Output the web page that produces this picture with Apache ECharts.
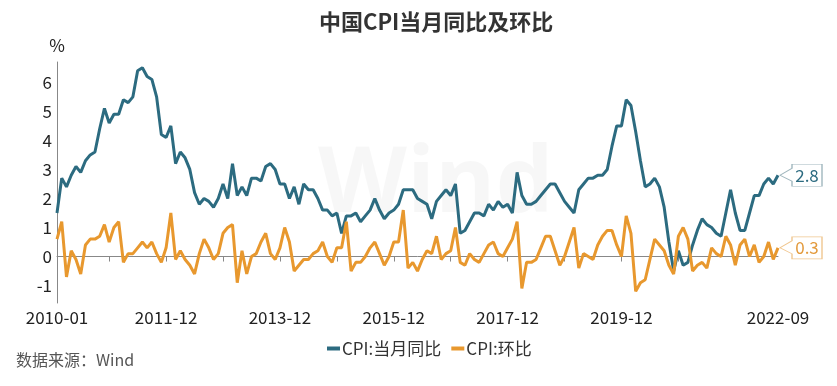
<!DOCTYPE html>
<html>
<head>
<meta charset="utf-8">
<script src="https://cdn.jsdelivr.net/npm/echarts@6/dist/echarts.min.js"></script>
<style>html,body{margin:0;padding:0;background:#fff}#c{width:837px;height:386px}</style>
</head>
<body>
<div id="c"></div>
<script>
// Months 2010-01 .. 2022-09
const startYear = 2010, endYear = 2022, endMonth = 9;
const categories = [];
for (let y = startYear; y <= endYear; y++) {
  for (let m = 1; m <= 12; m++) {
    if (y === endYear && m > endMonth) break;
    categories.push(y + '-' + (m < 10 ? '0' + m : m));
  }
}
// CPI YoY (%)
const yoy = [
  1.5, 2.7, 2.4, 2.8, 3.1, 2.9, 3.3, 3.5, 3.6, 4.4, 5.1, 4.6,
  4.9, 4.9, 5.4, 5.3, 5.5, 6.4, 6.5, 6.2, 6.1, 5.5, 4.2, 4.1,
  4.5, 3.2, 3.6, 3.4, 3.0, 2.2, 1.8, 2.0, 1.9, 1.7, 2.0, 2.5,
  2.0, 3.2, 2.1, 2.4, 2.1, 2.7, 2.7, 2.6, 3.1, 3.2, 3.0, 2.5,
  2.5, 2.0, 2.4, 1.8, 2.5, 2.3, 2.3, 2.0, 1.6, 1.6, 1.4, 1.5,
  0.8, 1.4, 1.4, 1.5, 1.2, 1.4, 1.6, 2.0, 1.6, 1.3, 1.5, 1.6,
  1.8, 2.3, 2.3, 2.3, 2.0, 1.9, 1.8, 1.3, 1.9, 2.1, 2.3, 2.1,
  2.5, 0.8, 0.9, 1.2, 1.5, 1.5, 1.4, 1.8, 1.6, 1.9, 1.7, 1.8,
  1.5, 2.9, 2.1, 1.8, 1.8, 1.9, 2.1, 2.3, 2.5, 2.5, 2.2, 1.9,
  1.7, 1.5, 2.3, 2.5, 2.7, 2.7, 2.8, 2.8, 3.0, 3.8, 4.5, 4.5,
  5.4, 5.2, 4.3, 3.3, 2.4, 2.5, 2.7, 2.4, 1.7, 0.5, -0.5, 0.2,
  -0.3, -0.2, 0.4, 0.9, 1.3, 1.1, 1.0, 0.8, 0.7, 1.5, 2.3, 1.5,
  0.9, 0.9, 1.5, 2.1, 2.1, 2.5, 2.7, 2.5, 2.8
];
// CPI MoM (%)
const mom = [
  0.6, 1.2, -0.7, 0.2, -0.1, -0.6, 0.4, 0.6, 0.6, 0.7, 1.1, 0.5,
  1.0, 1.2, -0.2, 0.1, 0.1, 0.3, 0.5, 0.3, 0.5, 0.1, -0.2, 0.3,
  1.5, -0.1, 0.2, -0.1, -0.3, -0.6, 0.1, 0.6, 0.3, -0.1, 0.1, 0.8,
  1.0, 1.1, -0.9, 0.2, -0.6, 0.0, 0.1, 0.5, 0.8, 0.1, -0.1, 0.3,
  1.0, 0.5, -0.5, -0.3, -0.1, -0.1, 0.1, 0.2, 0.5, 0.0, -0.2, 0.3,
  0.3, 1.2, -0.5, -0.2, -0.2, 0.0, 0.3, 0.5, 0.1, -0.3, 0.0, 0.5,
  0.5, 1.6, -0.4, -0.2, -0.5, -0.1, 0.2, 0.1, 0.7, -0.1, 0.1, 0.2,
  1.0, -0.2, -0.3, 0.1, -0.1, -0.2, 0.1, 0.4, 0.5, 0.1, 0.0, 0.3,
  0.6, 1.2, -1.1, -0.2, -0.2, -0.1, 0.3, 0.7, 0.7, 0.2, -0.3, 0.0,
  0.5, 1.0, -0.4, 0.1, 0.0, -0.1, 0.4, 0.7, 0.9, 0.9, 0.4, 0.0,
  1.4, 0.8, -1.2, -0.9, -0.8, -0.1, 0.6, 0.4, 0.2, -0.3, -0.6, 0.7,
  1.0, 0.6, -0.5, -0.3, -0.2, -0.4, 0.3, 0.1, 0.0, 0.7, 0.4, -0.3,
  0.4, 0.6, 0.0, 0.4, -0.2, 0.0, 0.5, -0.1, 0.3
];
const seriesNames = ['CPI:当月同比', 'CPI:环比'];
const colors = ['#2c6b80', '#e8982e'];
const textColors = ['#2c6b80', '#e39a3c'];
const borderColors = ['#9fb6bd', '#f0c68e'];
const FONT = '"Noto Sans CJK SC", "Noto Sans", sans-serif';
const last = categories.length - 1;

function callout(i, value) {
  return {
    symbol: 'path://M0,11 L12,4 L12,0 L42,0 L42,22 L12,22 L12,17 Z',
    symbolSize: [42, 22],
    symbolKeepAspect: false,
    symbolOffset: [23, 0],
    itemStyle: { color: '#fff', borderColor: borderColors[i], borderWidth: 1 },
    label: {
      show: true, position: 'inside', offset: [6, 0],
      color: textColors[i], fontSize: 17, fontFamily: FONT,
      formatter: String(value)
    },
    silent: true,
    animation: false,
    data: [{ coord: [last, value], value: value }]
  };
}

const chart = echarts.init(document.getElementById('c'), null, { renderer: 'canvas' });
chart.setOption({
  animation: false,
  backgroundColor: '#fff',
  title: {
    text: '中国CPI当月同比及环比',
    left: 314, top: 6,
    textStyle: { fontSize: 22, fontWeight: 'bold', color: '#333', fontFamily: FONT }
  },
  graphic: [{
    type: 'text', left: 318, top: 140, silent: true,
    style: { text: 'Wind', fontSize: 92, fontWeight: 'bold', fill: 'rgba(0,0,0,0.03)', fontFamily: '"Open Sans", sans-serif' }
  }, {
    type: 'text', left: 16, top: 352,
    style: { text: '数据来源：Wind', fontSize: 16, fill: '#555', fontFamily: FONT }
  }],
  legend: {
    left: 322, top: 335,
    itemWidth: 13, itemHeight: 4, itemGap: 10,
    icon: 'rect',
    textStyle: { fontSize: 17, color: '#333', fontFamily: FONT, padding: [0, 0, 0, -3] },
    data: seriesNames
  },
  grid: { left: 57, right: 59, top: 62, bottom: 83, containLabel: false },
  xAxis: {
    type: 'category',
    data: categories,
    boundaryGap: false,
    axisLine: { lineStyle: { color: '#888', width: 1 } },
    axisTick: {
      show: true, length: 5, lineStyle: { color: '#888' },
      interval: function (idx) { return idx === 0 || idx % 12 === 11; }
    },
    axisLabel: {
      fontSize: 17, color: '#222', fontFamily: FONT, margin: 6,
      hideOverlap: false,
      interval: function (idx) {
        return idx === 0 || idx === last || (idx >= 23 && idx <= 119 && (idx - 23) % 24 === 0);
      }
    },
    splitLine: { show: false }
  },
  yAxis: {
    type: 'value',
    min: -1.6, max: 6.7, interval: 0.1,
    name: '%', nameLocation: 'end', nameGap: 8,
    nameTextStyle: { fontSize: 17, color: '#222', fontFamily: FONT, align: 'center' },
    axisLine: { show: true, lineStyle: { color: '#888', width: 1 } },
    axisTick: { show: false },
    splitLine: { show: false },
    axisLabel: {
      fontSize: 17, color: '#222', fontFamily: FONT, margin: 5,
      formatter: function (v) {
        const r = Math.round(v);
        return Math.abs(v - r) < 1e-6 ? String(r) : '';
      }
    }
  },
  series: [{
    name: seriesNames[0], type: 'line', data: yoy,
    showSymbol: false, symbol: 'none',
    lineStyle: { color: colors[0], width: 3 },
    itemStyle: { color: colors[0] },
    markPoint: callout(0, yoy[last])
  }, {
    name: seriesNames[1], type: 'line', data: mom,
    showSymbol: false, symbol: 'none',
    lineStyle: { color: colors[1], width: 3 },
    itemStyle: { color: colors[1] },
    markPoint: callout(1, mom[last])
  }]
});
</script>
</body>
</html>
